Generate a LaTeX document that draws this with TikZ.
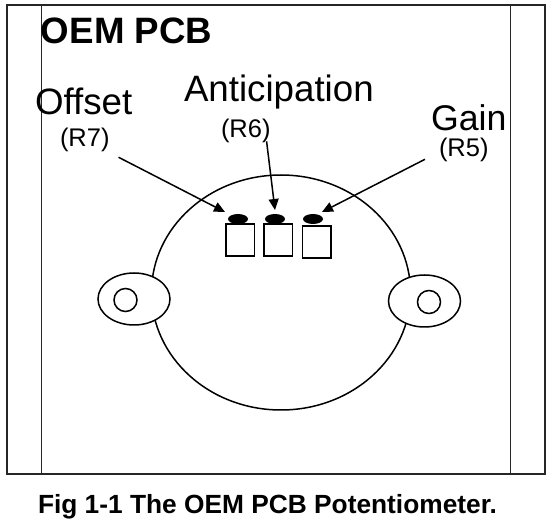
\documentclass[tikz,border=0pt]{standalone}
\usepackage{fontspec}
\setmainfont{Liberation Sans}
\usetikzlibrary{arrows.meta,shapes.geometric}
\tikzset{
  ln/.style={draw=black,line width=1.5pt},
  frameline/.style={draw=black!85,line width=1.6pt},
  label/.style={inner sep=0pt,outer sep=0pt,anchor=base west,text=black},
  big/.style={label,font=\fontsize{36.7}{36.7}\selectfont},
  gainsize/.style={label,font=\fontsize{35.7}{35.7}\selectfont},
  small/.style={label,font=\fontsize{25.5}{25.5}\selectfont},
  titletext/.style={label,font=\fontsize{36.7}{36.7}\selectfont\bfseries},
  captiontext/.style={label,font=\fontsize{26.3}{26.3}\selectfont\bfseries},
  ear/.style={ln,ellipse,fill=white,inner sep=0pt,outer sep=0pt,minimum width=72pt,minimum height=52pt},
  hole/.style={ln,circle,fill=white,inner sep=0pt,outer sep=0pt,minimum size=23pt},
  potbox/.style={ln,rectangle,fill=white,inner sep=0pt,outer sep=0pt,minimum width=28.5pt,minimum height=32pt},
  wiper/.style={ellipse,fill=black,inner sep=0pt,outer sep=0pt,minimum width=20pt,minimum height=10pt},
  pointer/.style={draw=black,line width=1.5pt,-{Triangle[length=11pt,width=10pt]}},
}
\begin{document}
\begin{tikzpicture}[x=1pt,y=-1pt]
\useasboundingbox (0,0) rectangle (550,524);
\fill[white] (0,0) rectangle (550,524);
% board
\node[frameline,rectangle,inner sep=0pt,outer sep=0pt,minimum width=538pt,minimum height=469pt] (board) at (276,239.5) {};
\coordinate (railLt) at (41.5,5);
\coordinate (railLb) at (41.5,474);
\coordinate (railRt) at (510.5,5);
\coordinate (railRb) at (510.5,474);
\draw[frameline] (railLt) -- (railLb);
\draw[frameline] (railRt) -- (railRb);
% body and ears
\node[ln,ellipse,inner sep=0pt,outer sep=0pt,minimum width=259pt,minimum height=235pt] (body) at (281,292.5) {};
\node[ear] (earL) at (134,299) {};
\node[ear] (earR) at (424.5,301) {};
\node[hole] (holeL) at (125.5,300) {};
\node[hole] (holeR) at (429,302) {};
% potentiometers
\node[potbox] (pot1) at (240,240) {};
\node[potbox] (pot2) at (278,240) {};
\node[potbox] (pot3) at (316.5,242) {};
\node[wiper] (ov1) at (238,219) {};
\node[wiper] (ov2) at (275,219) {};
\node[wiper] (ov3) at (313,219) {};
% labels
\node[titletext] (title) at (41,44) {OEM PCB};
\node[big] (offset) at (35,115) {Offset};
\node[small] (r7) at (60,147) {(R7)};
\node[big] (antic) at (184,102) {Anticipation};
\node[small] (r6) at (221,138) {(R6)};
\node[gainsize] (gain) at (431,131) {Gain};
\node[small] (r5) at (439,157) {(R5)};
\node[captiontext] (caption) at (38,514) {Fig 1-1 The OEM PCB Potentiometer.};
% pointers
\draw[pointer] ([xshift=9pt,yshift=-5pt]r7.south east) -- ([xshift=-13pt,yshift=7pt]ov1.center);
\draw[pointer] ([xshift=-4pt,yshift=2pt]r6.south east) -- ([yshift=9pt]ov2.center);
\draw[pointer] ([xshift=-14pt,yshift=3pt]r5.south west) -- ([xshift=9pt,yshift=7pt]ov3.center);
\end{tikzpicture}
\end{document}
